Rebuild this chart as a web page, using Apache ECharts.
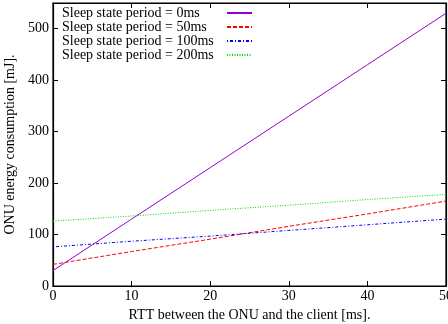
<!DOCTYPE html>
<html><head><meta charset="utf-8">
<script src="https://cdn.jsdelivr.net/npm/echarts@6/dist/echarts.min.js"></script>
<style>html,body{margin:0;padding:0;background:#fff}#c{width:448px;height:324px}</style>
</head><body><div id="c"></div>
<script>
var rtt = [0, 10, 20, 30, 40, 50];
var sleep0 = [30, 130, 230, 330, 430, 530];
var sleep50 = [42, 67, 91, 116, 140, 165];
var sleep100 = [76, 87, 97, 108, 119, 130];
var sleep200 = [126, 136, 147, 157, 168, 178];
var names = ['Sleep state period = 0ms', 'Sleep state period = 50ms', 'Sleep state period = 100ms', 'Sleep state period = 200ms'];
var xTicks = [0, 10, 20, 30, 40, 50];
var yTicks = [0, 100, 200, 300, 400, 500];

function pairs(ys){ return rtt.map(function(x,i){ return [x, ys[i]]; }); }
var font = 'Liberation Serif';
var chart = echarts.init(document.getElementById('c'), null, {renderer:'canvas'});
var baseAxis = {
  axisLine:{show:true, onZero:false, lineStyle:{color:'#000', width:1.2}},
  axisTick:{show:true, inside:true, length:5, lineStyle:{color:'#000'}},
  splitLine:{show:false}
};
chart.setOption({
  animation:false,
  textStyle:{fontFamily:font},
  grid:{left:53, right:2, top:3, bottom:38, show:true, borderColor:'#000', borderWidth:1.2, containLabel:false, outerBoundsMode:'none'},
  legend:{
    orient:'vertical', left:62, top:6, align:'right', itemGap:0,
    itemWidth:25, itemHeight:13, padding:0,
    itemStyle:{opacity:0, borderWidth:0},
    formatter:function(n){ return '{t|' + n + '}'; },
    textStyle:{fontFamily:font, fontSize:14, color:'#000',
      rich:{t:{fontFamily:font, fontSize:14, color:'#000', width:160, align:'left', lineHeight:13, height:13}}},
    data:names
  },
  xAxis:[
    Object.assign({type:'value', min:0, max:50, interval:10, position:'bottom',
      name:'RTT between the ONU and the client [ms].', nameLocation:'middle', nameGap:20,
      nameTextStyle:{fontFamily:font, fontSize:14, color:'#000'},
      axisLabel:{fontFamily:font, fontSize:14, color:'#000', margin:3}}, baseAxis),
    Object.assign({type:'value', min:0, max:50, interval:10, position:'top',
      axisLabel:{show:false}}, baseAxis)
  ],
  yAxis:[
    Object.assign({type:'value', min:0, max:550, interval:100, position:'left',
      name:'ONU energy consumption [mJ].', nameLocation:'middle', nameGap:31,
      nameTextStyle:{fontFamily:font, fontSize:14, color:'#000'},
      axisLabel:{fontFamily:font, fontSize:14, color:'#000', margin:4,
        formatter:function(v){return yTicks.indexOf(v)>=0?String(v):'';}}}, baseAxis),
    Object.assign({type:'value', min:0, max:550, interval:100, position:'right',
      axisLabel:{show:false}}, baseAxis)
  ],
  series:[
    {name:names[0], type:'line', data:pairs(sleep0), symbol:'none', lineStyle:{color:'#9400d3', width:1}, itemStyle:{color:'#9400d3'}},
    {name:names[1], type:'line', data:pairs(sleep50), symbol:'none', lineStyle:{color:'#ff0000', width:1, type:[4,2]}, itemStyle:{color:'#ff0000'}},
    {name:names[2], type:'line', data:pairs(sleep100), symbol:'none', lineStyle:{color:'#0000ff', width:1, type:[1,2,3,2]}, itemStyle:{color:'#0000ff'}},
    {name:names[3], type:'line', data:pairs(sleep200), symbol:'none', lineStyle:{color:'#00dd00', width:1, type:[1,1.5]}, itemStyle:{color:'#00dd00'}}
  ]
});
</script></body></html>
